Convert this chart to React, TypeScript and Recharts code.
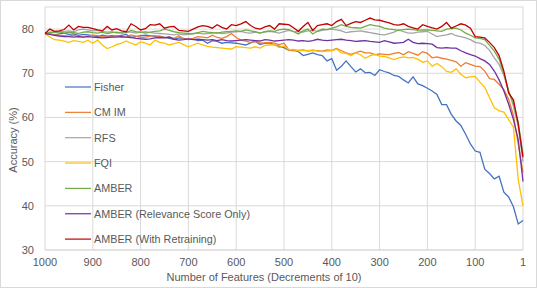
import React from "react";
import { LineChart, Line, XAxis, YAxis, CartesianGrid } from "recharts";

const features = [
  1000, 990, 980, 970, 960, 950, 940, 930, 920, 910,
  900, 890, 880, 870, 860, 850, 840, 830, 820, 810,
  800, 790, 780, 770, 760, 750, 740, 730, 720, 710,
  700, 690, 680, 670, 660, 650, 640, 630, 620, 610,
  600, 590, 580, 570, 560, 550, 540, 530, 520, 510,
  500, 490, 480, 470, 460, 450, 440, 430, 420, 410,
  400, 390, 380, 370, 360, 350, 340, 330, 320, 310,
  300, 290, 280, 270, 260, 250, 240, 230, 220, 210,
  200, 190, 180, 170, 160, 150, 140, 130, 120, 110,
  100, 90, 80, 70, 60, 50, 40, 30, 20, 10,
  1,
];

const fisher = [
  79.0, 78.9, 78.7, 78.9, 79.1, 78.8, 78.9, 78.6, 78.8, 78.7,
  78.5, 78.3, 78.6, 78.4, 78.5, 78.4, 78.6, 78.8, 78.1, 78.3,
  78.5, 78.6, 78.5, 78.3, 78.4, 78.1, 77.9, 77.7, 78.0, 77.9,
  77.6, 77.8, 77.4, 77.5, 76.8, 77.4, 77.2, 76.8, 77.0, 76.9,
  76.8, 76.6, 76.4, 76.9, 77.2, 76.5, 76.8, 76.9, 76.4, 76.1,
  75.8, 75.2, 75.3, 74.9, 74.0, 74.3, 74.6, 74.2, 74.0, 72.8,
  73.3, 70.7, 71.6, 72.8, 71.5, 70.3, 71.0, 70.1, 70.2, 69.5,
  70.8, 70.4, 70.1, 69.5, 69.3, 68.5, 67.8, 69.2, 67.6, 67.2,
  66.6, 66.0, 65.2, 62.9, 62.9, 60.7, 59.2, 58.2, 56.2, 54.0,
  52.4, 52.1, 48.3, 47.3, 46.1, 46.7, 43.1, 42.0, 39.8, 35.9,
  36.7,
];

const cmim = [
  79.0, 78.9, 78.7, 78.6, 78.5, 78.4, 78.6, 78.3, 78.2, 78.4,
  78.6, 78.5, 78.3, 78.2, 78.3, 78.5, 78.2, 78.2, 78.7, 78.4,
  78.1, 78.2, 78.4, 78.5, 78.3, 78.1, 78.2, 77.9, 78.5, 77.8,
  77.7, 77.9, 78.3, 78.2, 78.0, 78.6, 78.1, 77.9, 78.3, 79.0,
  78.1, 77.5, 77.3, 77.0, 77.2, 76.8, 76.9, 77.0, 76.8, 76.5,
  76.8, 75.3, 75.1, 75.2, 75.3, 75.0, 75.2, 75.1, 75.0, 75.3,
  75.2, 75.6, 75.1, 74.6, 74.3, 74.7, 75.0, 74.6, 74.6, 74.2,
  74.4, 74.3, 74.2, 74.5, 74.7, 74.2, 74.9, 74.5, 74.1, 74.9,
  74.5, 73.5, 73.7, 73.4, 73.2, 72.9, 72.6, 71.6, 72.4, 72.0,
  71.6, 71.5, 70.5, 68.8, 68.6, 67.5, 66.3, 64.1, 60.5, 54.0,
  47.5,
];

const rfs = [
  79.0, 79.2, 79.4, 79.3, 79.5, 79.6, 79.4, 79.8, 80.0, 79.8,
  79.6, 79.7, 79.5, 79.3, 79.4, 79.1, 79.2, 79.4, 79.3, 79.1,
  79.3, 79.4, 79.2, 79.1, 79.0, 78.9, 78.8, 78.7, 78.9, 78.7,
  78.8, 79.0, 79.1, 78.9, 79.0, 79.1, 79.2, 79.0, 79.1, 79.3,
  79.4, 79.5, 79.2, 79.1, 79.3, 79.1, 79.4, 79.5, 79.3, 79.1,
  79.4, 79.7, 79.5, 79.4, 79.3, 79.6, 79.7, 79.5, 79.7, 79.9,
  80.0, 79.8, 79.6, 79.2, 79.4, 79.5, 79.6, 79.4, 79.2, 79.0,
  78.8, 78.7, 79.0, 79.3, 79.8, 79.4, 79.1, 79.1, 79.3, 79.4,
  79.5, 78.9, 78.3, 78.5, 78.7, 79.0, 78.5, 78.3, 78.0, 77.6,
  77.0, 76.8, 76.3, 75.2, 73.5, 72.0, 69.5, 66.0, 62.5, 58.0,
  50.0,
];

const fqi = [
  79.0, 78.2, 77.6, 77.5, 77.3, 77.0, 77.4, 77.2, 77.0, 77.5,
  76.8, 77.5, 76.4, 75.6, 76.0, 76.5, 76.8, 77.3, 76.8, 76.4,
  77.1, 76.8, 76.4, 77.5, 77.0, 76.8, 76.4, 76.7, 77.0, 76.5,
  76.0, 76.4, 76.8, 76.4, 76.1, 75.9, 75.8, 75.7, 75.6, 75.5,
  76.0, 75.9, 75.8, 75.7, 76.0, 75.7, 76.3, 76.4, 76.5, 75.8,
  76.2, 75.3, 75.4, 75.1, 75.2, 75.1, 75.3, 75.0, 74.9, 75.0,
  75.1, 75.5, 74.6, 74.5, 74.0, 74.6, 74.2, 73.4, 74.0, 74.3,
  73.9, 73.8, 73.5, 73.1, 73.5, 73.7, 73.5, 73.6, 73.2, 72.5,
  72.8, 71.6, 72.2, 71.5, 70.4, 70.2, 71.0, 69.8, 69.0, 69.2,
  69.3, 68.0, 66.8, 64.5, 62.2, 61.5, 61.2, 59.5, 57.8, 46.0,
  40.0,
];

const amber = [
  79.0, 79.3, 79.2, 79.4, 79.1, 79.3, 79.2, 79.0, 79.3, 79.4,
  79.2, 79.1, 79.3, 79.0, 79.2, 79.3, 79.1, 79.2, 79.7, 79.4,
  79.3, 79.1, 79.3, 79.5, 79.6, 80.0, 79.7, 79.4, 79.2, 79.1,
  79.0, 78.9, 79.2, 79.5, 79.3, 79.2, 79.1, 79.3, 79.4, 79.5,
  79.6, 79.5, 79.8, 79.6, 79.4, 79.1, 79.4, 79.6, 79.5, 79.8,
  80.0, 79.9, 79.4, 78.9, 79.6, 80.0, 78.9, 79.5, 80.0, 79.9,
  80.2, 80.5, 81.0, 80.6, 80.4, 80.3, 80.2, 80.6, 81.0, 80.8,
  80.6, 80.2, 80.0, 79.9, 79.7, 79.9, 80.0, 79.9, 79.7, 79.8,
  79.8, 79.7, 79.6, 79.5, 80.0, 80.1, 80.2, 79.8, 79.1, 78.6,
  78.0, 77.9, 77.6, 76.3, 75.0, 73.2, 70.0, 66.0, 63.2, 59.0,
  51.5,
];

const amberRelevance = [
  79.0, 78.8, 78.6, 78.4, 78.3, 78.3, 78.2, 78.3, 78.2, 78.3,
  78.2, 78.1, 78.0, 78.1, 78.2, 78.2, 78.3, 78.2, 78.1, 77.9,
  77.8, 77.7, 77.8, 78.0, 78.1, 78.0, 78.2, 77.7, 77.5, 77.6,
  77.8, 77.6, 77.7, 77.6, 77.5, 77.6, 77.4, 77.6, 77.4, 77.3,
  77.4, 77.5, 77.6, 77.5, 77.4, 77.3, 77.6, 77.5, 77.3, 77.4,
  77.5, 77.6, 77.5, 77.3, 77.4, 77.2, 77.4, 77.7, 77.5, 77.4,
  77.5, 77.6, 77.7, 77.5, 77.4, 77.2, 77.3, 77.4, 77.2, 77.1,
  77.0, 77.4, 77.1, 76.8, 76.9, 77.0, 77.7, 77.0, 76.7, 76.8,
  76.7, 76.6, 75.8, 75.7, 75.8, 75.7, 75.7, 75.1, 74.6, 74.2,
  73.9, 73.3, 72.8, 72.0, 70.5, 68.5, 66.0, 63.0, 59.5, 55.0,
  45.5,
];

const amberRetraining = [
  79.0, 80.0, 79.5, 79.6, 79.9, 80.9, 79.8, 80.6, 80.4, 80.4,
  80.1, 79.8, 79.6, 80.6, 79.8, 80.1, 79.6, 79.4, 81.2, 80.6,
  79.8, 80.1, 81.0, 80.9, 81.2, 80.2, 80.5, 80.6, 79.7, 79.6,
  79.5, 80.0, 80.5, 80.8, 80.6, 80.2, 81.0, 80.4, 80.0, 81.0,
  80.8, 81.2, 81.7, 80.8, 80.2, 80.0, 80.5, 80.8, 80.0, 81.2,
  81.1, 81.0, 80.3, 79.5, 80.6, 81.5, 79.7, 80.8, 81.0, 81.2,
  80.8, 81.7, 82.2, 80.8, 81.3, 81.7, 81.5, 82.0, 82.5, 82.1,
  82.0, 81.7, 81.4, 81.0, 80.9, 81.2, 80.6, 80.3, 80.0, 81.0,
  80.6, 80.3, 80.0, 80.6, 81.5, 80.2, 80.7, 81.2, 80.9, 80.2,
  78.3, 78.2, 78.0, 77.0, 75.8, 74.0, 70.5, 65.5, 64.0, 58.5,
  51.0,
];

const yTicks = [30, 40, 50, 60, 70, 80];

const series = [
  { key: "fisher", name: "Fisher", color: "#4472C4", values: fisher },
  { key: "cmim", name: "CM IM", color: "#ED7D31", values: cmim },
  { key: "rfs", name: "RFS", color: "#A5A5A5", values: rfs },
  { key: "fqi", name: "FQI", color: "#FFC000", values: fqi },
  { key: "amber", name: "AMBER", color: "#70AD47", values: amber },
  {
    key: "amberRelevance",
    name: "AMBER (Relevance Score Only)",
    color: "#7030A0",
    values: amberRelevance,
  },
  {
    key: "amberRetraining",
    name: "AMBER (With Retraining)",
    color: "#C00000",
    values: amberRetraining,
  },
];

const data = features.map((f, i) => {
  const row: Record<string, number | string> = { features: String(f) };
  series.forEach((s) => {
    row[s.key] = s.values[i];
  });
  return row;
});

const FONT = '"Liberation Sans", Arial, sans-serif';
const TEXT = "#595959";
const GRID = "#D9D9D9";

// Excel-style legend drawn inside the plot area, on top of the chart
function LegendOverlay() {
  return (
    <g>
      {series.map((s, i) => {
        const y = 87 + i * 25.35;
        return (
          <g key={s.key}>
            <line x1={65} x2={91} y1={y} y2={y} stroke={s.color} strokeWidth={1.2} />
            <text
              x={94}
              y={y}
              dominantBaseline="central"
              fontSize={10.8}
              fill={TEXT}
              fontFamily={FONT}
            >
              {s.name}
            </text>
          </g>
        );
      })}
    </g>
  );
}

export default function App() {
  return (
    <div
      style={{
        position: "absolute",
        left: 0,
        top: 0,
        width: 537,
        height: 288,
        background: "#fff",
      }}
    >
      <LineChart
        width={537}
        height={288}
        data={data}
        margin={{ top: 7, right: 14, left: 0, bottom: 0 }}
        style={{ fontFamily: FONT }}
      >
        <CartesianGrid stroke={GRID} strokeWidth={1} />
        <XAxis
          dataKey="features"
          interval={9}
          height={38}
          tick={{ fontSize: 11, fill: TEXT }}
          tickLine={false}
          axisLine={{ stroke: GRID }}
        />
        <YAxis
          width={45}
          domain={[30, 85]}
          ticks={yTicks}
          tick={{ fontSize: 11, fill: TEXT }}
          tickLine={false}
          axisLine={false}
          tickMargin={5}
        />
        {series.map((s) => (
          <Line
            key={s.key}
            type="linear"
            dataKey={s.key}
            name={s.name}
            stroke={s.color}
            strokeWidth={1.3}
            dot={false}
            isAnimationActive={false}
          />
        ))}
      </LineChart>
      <svg
        width={537}
        height={288}
        style={{ position: "absolute", left: 0, top: 0, pointerEvents: "none" }}
      >
        <LegendOverlay />
        <text
          x={264}
          y={281}
          textAnchor="middle"
          fontSize={11}
          fill={TEXT}
          fontFamily={FONT}
        >
          Number  of Features (Decrements  of 10)
        </text>
        <text
          x={13}
          y={140}
          textAnchor="middle"
          dominantBaseline="central"
          fontSize={11}
          fill={TEXT}
          fontFamily={FONT}
          transform="rotate(-90 13 140)"
        >
          Accuracy (%)
        </text>
        <rect
          x={0.5}
          y={0.5}
          width={536}
          height={287}
          fill="none"
          stroke={GRID}
        />
      </svg>
    </div>
  );
}
